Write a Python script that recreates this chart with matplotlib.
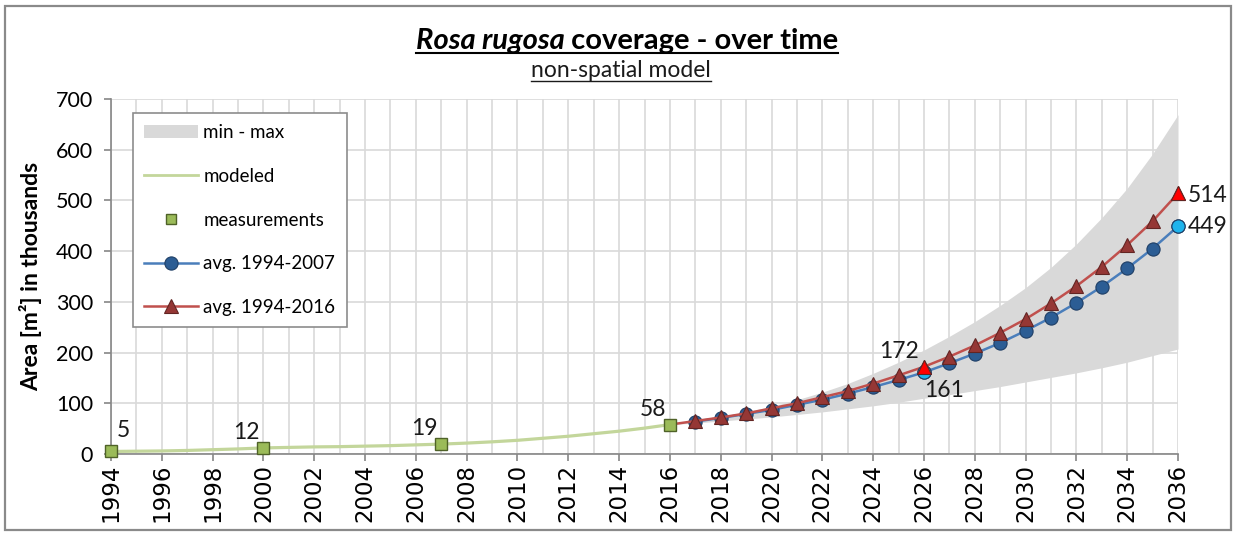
import numpy as np
import matplotlib
matplotlib.use("Agg")
import matplotlib.pyplot as plt
from matplotlib.lines import Line2D
from matplotlib.patches import Patch, Rectangle

# ---------------------------------------------------------------------
# Data (area in thousands of m²)
years_model = list(range(1994, 2017))
modeled = [5, 5.5, 6, 7, 8.5, 10, 12, 13, 14, 14.5, 15.5, 16.5, 18, 19.5,
           21.5, 24, 27, 31, 35, 40, 45, 51, 58]

years_meas = [1994, 2000, 2007, 2016]
measured = [5, 12, 19, 58]

years_proj = list(range(2016, 2037))
avg_1994_2007 = [58, 64, 71, 79, 87, 97, 107, 119, 132, 146, 161,
                 179, 198, 219, 243, 269, 298, 330, 366, 405, 449]
avg_1994_2016 = [58, 65, 72, 80, 90, 100, 112, 124, 139, 155, 172,
                 192, 214, 239, 266, 297, 331, 369, 412, 459, 514]
band_min = [58, 61, 65, 69, 73, 78, 83, 89, 95, 102, 110,
            117, 125, 133, 142, 151, 160, 170, 181, 194, 207]
band_max = [58, 65, 73, 83, 94, 107, 122, 139, 159, 181, 205,
            232, 261, 293, 328, 368, 414, 466, 524, 592, 669]

xticks = list(range(1994, 2037, 2))
yticks = list(range(0, 701, 100))

# colours
c_band = "#d9d9d9"
c_model = "#c3d69b"
c_meas = "#9bbb59"
c_meas_edge = "#4f6228"
c_blue = "#4a7ebb"
c_blue_mk = "#2c5d94"
c_red = "#c0504d"
c_red_mk = "#953735"
c_hi_blue = "#1fb4ec"
c_hi_red = "#ff0000"

plt.rcParams["font.family"] = ["Lato", "DejaVu Sans"]

W, H = 1235, 533
fig = plt.figure(figsize=(W / 100, H / 100), dpi=100)
ax = fig.add_axes([111 / W, 1 - 454 / H, (1178 - 111) / W, (454 - 99) / H])

# min-max band
ax.fill_between(years_proj, band_min, band_max, color=c_band, lw=0, zorder=1)

# modeled history + measurements
ax.plot(years_model, modeled, color=c_model, lw=2.3, zorder=2)
ax.plot(years_meas, measured, ls="none", marker="s", ms=8,
        mfc=c_meas, mec=c_meas_edge, mew=1.0, zorder=5, clip_on=False)

# projections
ax.plot(years_proj[1:], avg_1994_2007[1:], color=c_blue, lw=1.8,
        marker="o", ms=9.5, mfc=c_blue_mk, mec="#1f3f66", mew=0.8, zorder=3,
        clip_on=False)
ax.plot(years_proj, avg_1994_2016, color=c_red, lw=1.8, zorder=4, clip_on=False)
ax.plot(years_proj[1:], avg_1994_2016[1:], ls="none",
        marker="^", ms=10, mfc=c_red_mk, mec="#632523", mew=0.8, zorder=4,
        clip_on=False)

# highlighted points (2026 and 2036)
for yr in (2026, 2036):
    i = years_proj.index(yr)
    ax.plot(yr, avg_1994_2007[i], marker="o", ms=9.5, mfc=c_hi_blue,
            mec="#1f3f66", mew=0.8, zorder=6, clip_on=False)
    ax.plot(yr, avg_1994_2016[i], marker="^", ms=10, mfc=c_hi_red,
            mec="#632523", mew=0.8, zorder=7, clip_on=False)

# value labels
lab_kw = dict(textcoords="offset pixels", fontsize=16.5, color="#1a1a1a", zorder=8)
ax.annotate(f"{measured[0]}", (years_meas[0], measured[0]), xytext=(6, 10),
            ha="left", va="bottom", **lab_kw)
for yr, v in zip(years_meas[1:], measured[1:]):
    ax.annotate(f"{v}", (yr, v), xytext=(-4, 5), ha="right", va="bottom", **lab_kw)
i26 = years_proj.index(2026)
ax.annotate(f"{avg_1994_2016[i26]}", (2026, avg_1994_2016[i26]), xytext=(-5, 5),
            ha="right", va="bottom", **lab_kw)
ax.annotate(f"{avg_1994_2007[i26]}", (2026, avg_1994_2007[i26]), xytext=(0, -8),
            ha="left", va="top", **lab_kw)
ax.annotate(f"{avg_1994_2016[-1]}", (2036, avg_1994_2016[-1]), xytext=(10, -2),
            ha="left", va="center", **lab_kw)
ax.annotate(f"{avg_1994_2007[-1]}", (2036, avg_1994_2007[-1]), xytext=(10, 0),
            ha="left", va="center", **lab_kw)

# axes styling
ax.set_xlim(1994, 2036)
ax.set_ylim(0, 700)
ax.set_xticks(xticks)
ax.set_xticks(range(1994, 2037), minor=True)
ax.set_yticks(yticks)
ax.grid(True, which="both", axis="x", color="#d9d9d9", lw=1.2, zorder=0)
ax.grid(True, which="major", axis="y", color="#d9d9d9", lw=1.2, zorder=0)
ax.set_axisbelow(True)
for s in ("top", "right"):
    ax.spines[s].set_visible(False)
for s in ("left", "bottom"):
    ax.spines[s].set_color("#868686")
    ax.spines[s].set_linewidth(1.2)
ax.tick_params(axis="x", which="major", length=5, color="#868686", width=1.2,
               pad=2, labelrotation=90, labelsize=16.5)
ax.tick_params(axis="x", which="minor", length=0)
ax.tick_params(axis="y", length=5, color="#868686", width=1.2, pad=8, labelsize=15.5)
for lbl in ax.get_xticklabels():
    lbl.set_fontfamily("DejaVu Sans")
ax.set_ylabel("Area [m²] in thousands", fontsize=16.5, fontweight="bold", labelpad=10)

# legend
handles = [
    Patch(facecolor=c_band, edgecolor="none"),
    Line2D([], [], color=c_model, lw=2),
    Line2D([], [], ls="none", marker="s", ms=7, mfc=c_meas, mec=c_meas_edge, mew=1.0),
    Line2D([], [], color=c_blue, lw=1.8, marker="o", ms=9.5, mfc=c_blue_mk,
           mec="#1f3f66", mew=0.8),
    Line2D([], [], color=c_red, lw=1.8, marker="^", ms=10, mfc=c_red_mk,
           mec="#632523", mew=0.8),
]
labels = ["min - max", "modeled", "measurements", "avg. 1994-2007", "avg. 1994-2016"]
leg = fig.legend(handles, labels, loc="upper left",
                 bbox_to_anchor=(133 / W, 1 - 113 / H), borderaxespad=0,
                 fontsize=13.5, frameon=True, fancybox=False, framealpha=1,
                 edgecolor="#8c8c8c", handlelength=2.85, handletextpad=0.3,
                 labelspacing=1.42, borderpad=0.6)
leg.get_frame().set_linewidth(1.2)

# title pieces (mixed italic) with underline
renderer = fig.canvas.get_renderer()
ty = 1 - 49 / H
t1 = fig.text(0, ty, "Rosa rugosa", fontsize=21, fontweight="bold",
              fontstyle="italic", va="baseline")
t2 = fig.text(0, ty, " coverage - over time", fontsize=21, fontweight="bold",
              va="baseline")
w1 = t1.get_window_extent(renderer).width
w2 = t2.get_window_extent(renderer).width
x0 = 627 - (w1 + w2) / 2
t1.set_x(x0 / W)
t2.set_x((x0 + w1) / W)
fig.add_artist(Line2D([x0 / W, (x0 + w1 + w2) / W], [1 - 53 / H, 1 - 53 / H],
                      transform=fig.transFigure, color="black", lw=1.5))

st = fig.text(621 / W, 1 - 77 / H, "non-spatial model", fontsize=16.5,
              ha="center", va="baseline", color="#1a1a1a")
sw = st.get_window_extent(renderer).width
fig.add_artist(Line2D([(621 - sw / 2) / W, (621 + sw / 2) / W], [1 - 81 / H, 1 - 81 / H],
                      transform=fig.transFigure, color="#1a1a1a", lw=1.0))

# chart border
fig.add_artist(Rectangle((5 / W, 3 / H), 1226 / W, 524 / H, transform=fig.transFigure,
                         fill=False, edgecolor="#8a8a8a", lw=1.6))

fig.savefig("out.png", dpi=100)
